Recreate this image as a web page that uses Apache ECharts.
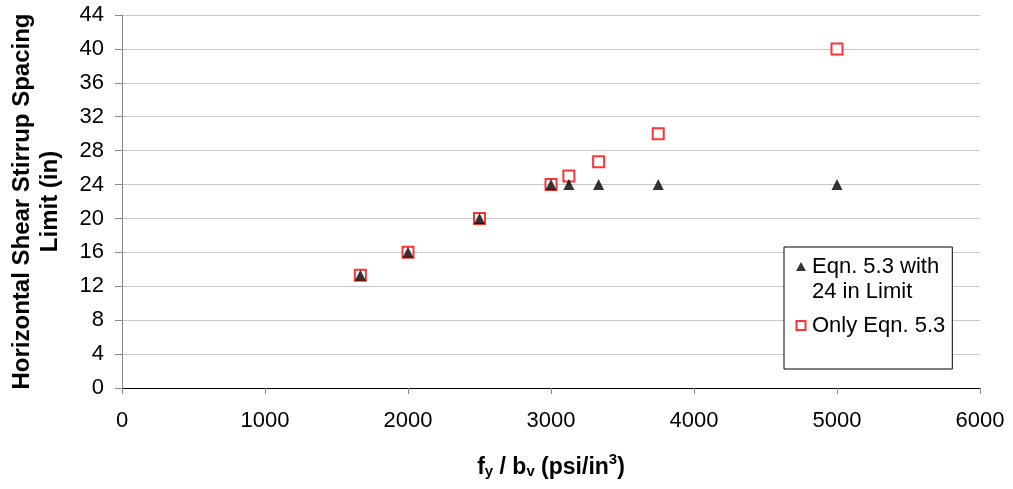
<!DOCTYPE html>
<html>
<head>
<meta charset="utf-8">
<script src="https://cdn.jsdelivr.net/npm/echarts@6/dist/echarts.min.js"></script>
<style>
  html, body { margin: 0; padding: 0; background: #fff; }
  #chart { width: 1013px; height: 489px; }
</style>
</head>
<body>
<div id="chart"></div>
<script>
  // fy/bv values and spacing limits
  var ratio = [1667, 2000, 2500, 3000, 3125, 3333, 3750, 5000];
  var withLimit = [13.3, 16, 20, 24, 24, 24, 24, 24];
  var onlyEqn = [13.3, 16, 20, 24, 25, 26.7, 30, 40];

  function pairs(xs, ys) {
    return xs.map(function (x, i) { return [x, ys[i]]; });
  }

  // legend icons: tall 12x37 boxes so the marker lines up with the first text line
  var triIcon = 'path://M0,0 M12,37 M6,1.5 L11,10.5 L1,10.5 Z';
  var sqIcon = 'path://M0,0 M12,37 M1.5,14 L10.5,14 L10.5,23 L1.5,23 Z';

  var chart = echarts.init(document.getElementById('chart'));
  var font = 'Liberation Sans, Arial, sans-serif';
  chart.setOption({
    animation: false,
    textStyle: { fontFamily: font },
    grid: { left: 122, right: 33, top: 15, bottom: 101, outerBoundsMode: 'none', containLabel: false },
    legend: {
      orient: 'vertical',
      left: 784,
      top: 247,
      padding: [7, 7, 24, 10],
      itemGap: 2,
      itemWidth: 12,
      itemHeight: 37,
      backgroundColor: '#fff',
      borderColor: '#000',
      borderWidth: 1,
      borderRadius: 0,
      textStyle: { fontFamily: font, fontSize: 22, color: '#000', lineHeight: 25 },
      data: [
        { name: 'Eqn. 5.3 with\n24 in Limit', icon: triIcon },
        { name: 'Only Eqn. 5.3', icon: sqIcon }
      ]
    },
    xAxis: {
      type: 'value',
      min: 0, max: 6000, interval: 1000,
      name: '{b|f}{s|y}{b| / b}{s|v}{b| (psi/in}{p|3}{b|)}',
      nameLocation: 'middle',
      nameGap: 64,
      nameTextStyle: {
        rich: {
          b: { fontSize: 23, fontWeight: 'bold', color: '#000', fontFamily: font, verticalAlign: 'bottom' },
          s: { fontSize: 15, fontWeight: 'bold', color: '#000', fontFamily: font, padding: [10, 0, 0, 0], verticalAlign: 'bottom' },
          p: { fontSize: 15, fontWeight: 'bold', color: '#000', fontFamily: font, padding: [0, 0, 12, 0], verticalAlign: 'bottom' }
        }
      },
      axisLine: { lineStyle: { color: '#000', width: 1 } },
      axisTick: { show: true, inside: false, length: 6, lineStyle: { color: '#888' } },
      axisLabel: { fontSize: 22, color: '#000', margin: 22, fontFamily: font, formatter: function (v) { return String(v); } },
      splitLine: { show: false }
    },
    yAxis: {
      type: 'value',
      min: 0, max: 44, interval: 4,
      name: 'Horizontal Shear Stirrup Spacing\nLimit (in)',
      nameLocation: 'middle',
      nameGap: 58,
      nameTextStyle: { fontSize: 24, fontWeight: 'bold', color: '#000', lineHeight: 28, fontFamily: font },
      axisLine: { show: true, lineStyle: { color: '#888', width: 1 } },
      axisTick: { show: true, inside: false, length: 7, lineStyle: { color: '#888' } },
      axisLabel: { fontSize: 22, color: '#000', margin: 18, fontFamily: font },
      splitLine: { show: true, lineStyle: { color: '#c8c8c8', width: 1 } }
    },
    series: [
      {
        name: 'Only Eqn. 5.3',
        type: 'scatter',
        symbol: 'rect',
        symbolSize: 11,
        z: 2,
        itemStyle: { color: '#fff', borderColor: '#ff0000', borderWidth: 2 },
        data: pairs(ratio, onlyEqn)
      },
      {
        name: 'Eqn. 5.3 with\n24 in Limit',
        type: 'scatter',
        symbol: 'triangle',
        symbolSize: 11,
        z: 3,
        itemStyle: { color: '#000' },
        data: pairs(ratio, withLimit)
      }
    ]
  });
</script>
</body>
</html>
